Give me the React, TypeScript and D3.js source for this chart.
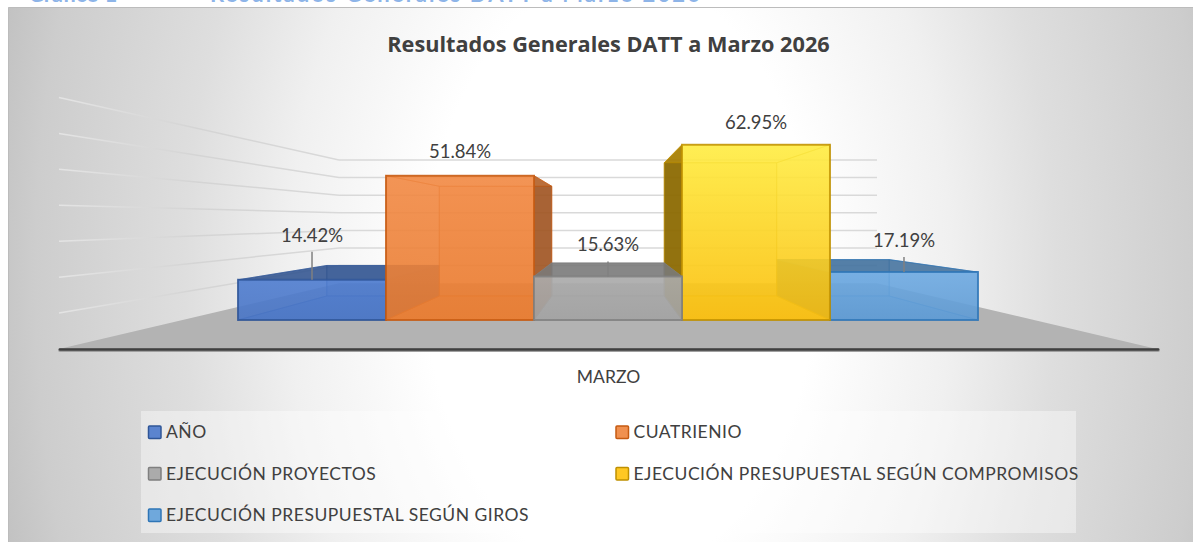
import React from 'react';
import { scaleBand, scaleLinear, line, color } from 'd3';

const categories = ['AÑO', 'CUATRIENIO', 'EJECUCIÓN PROYECTOS', 'EJECUCIÓN PRESUPUESTAL SEGÚN COMPROMISOS', 'EJECUCIÓN PRESUPUESTAL SEGÚN GIROS'];
const values = [14.42, 51.84, 15.63, 62.95, 17.19];
const valueTicks = [0, 10, 20, 30, 40, 50, 60, 70];
const axisCategory = 'MARZO';
const chartTitle = 'Resultados Generales DATT a Marzo 2026';

const colors = ['#4472C4', '#ED7D31', '#A5A5A5', '#FFC000', '#5B9BD5'];
const strokes = ['#2F5597', '#C55A11', '#7F7F7F', '#BF9000', '#2E75B6'];
const frontTop = ['#4f7dd0', '#f28a45', '#acacac', '#ffee45', '#6eaae2'];
const frontBottom = ['#4a76c6', '#e97c30', '#a3a3a3', '#fabf10', '#5f9bd4'];
const legendFill = ['#5b84cf', '#f0904f', '#ababab', '#ffc824', '#6fa8dc'];

const width = 1193;
const height = 542;
const font = 'Lato, Carlito, sans-serif';
const textColor = '#404040';

// simple perspective: everything is laid out on the front plane, then pulled to the vanishing point
const vanish = { x: 608, y: 220 };
const depth = { front: 1, barFront: 0.775, barBack: 0.589, wall: 0.49 };

const xFloor = scaleLinear().domain([0, 1]).range([59, 1157]);
const xBars = scaleBand().domain(categories).range([130.6, 1085.4]);
const yScale = scaleLinear().domain([0, 70]).range([349, 97.5]);

type P = [number, number];
const project = (x: number, v: number, k: number): P => [
  vanish.x + (x - vanish.x) * k,
  vanish.y + (yScale(v) - vanish.y) * k,
];
const path = line();
const poly = (pts: P[]) => path(pts) + 'Z';

// left bars first, so the taller front faces and the middle box sit on top
const paintOrder = [0, 4, 1, 3, 2];

const Box = ({ i }: { i: number }) => {
  const name = categories[i];
  const v = values[i];
  const x0 = xBars(name) as number;
  const x1 = x0 + xBars.bandwidth();
  const c = colors[i];
  const dark = (a: number) => color(c)!.darker(a).formatHex();
  const f = (x: number, val: number) => project(x, val, depth.barFront);
  const b = (x: number, val: number) => project(x, val, depth.barBack);
  const isLow = yScale(v) > vanish.y;
  const innerIsRight = i < 2;
  const isMiddle = i === 2;
  const edge = { stroke: strokes[i], strokeOpacity: 0.55, strokeWidth: 1 };
  const leftOp = !innerIsRight && !isMiddle ? 0.9 : 0.22;
  const rightOp = innerIsRight ? 0.85 : 0.22;
  return (
    <g>
      <path d={poly([b(x0, 0), b(x1, 0), b(x1, v), b(x0, v)])} fill={c} fillOpacity={0.4} {...edge} />
      <path d={poly([f(x0, 0), f(x1, 0), b(x1, 0), b(x0, 0)])} fill={c} fillOpacity={0.55} {...edge} />
      <path
        d={poly([f(x0, 0), b(x0, 0), b(x0, v), f(x0, v)])}
        fill={!innerIsRight && !isMiddle ? dark(1.8) : c}
        fillOpacity={leftOp}
        {...edge}
      />
      <path
        d={poly([f(x1, 0), b(x1, 0), b(x1, v), f(x1, v)])}
        fill={innerIsRight ? dark(1.2) : c}
        fillOpacity={rightOp}
        {...edge}
      />
      <path
        d={poly([f(x0, v), f(x1, v), b(x1, v), b(x0, v)])}
        fill={isLow ? dark(0.9) : c}
        fillOpacity={isLow ? 0.85 : 0.25}
        {...edge}
      />
      <path
        d={poly([f(x0, 0), f(x1, 0), f(x1, v), f(x0, v)])}
        fill={`url(#front${i})`}
        fillOpacity={0.88}
        stroke={strokes[i]}
        strokeOpacity={0.8}
        strokeWidth={2}
      />
    </g>
  );
};

// gap between bar top and label baseline, and the leader line for the low bars
const labelOffset = [38, 18, 25, 16, 25];
const leaderLength = [28, 0, 15, 0, 15];

const App = () => {
  const wallLeft = xFloor(0);
  const wallRight = xFloor(1);
  const wallTicks = valueTicks.slice(1);
  return (
    <svg
      width={width}
      height={height}
      style={{ position: 'absolute', left: 0, top: 0, background: '#fff' }}
      fontFamily={font}
    >
      <defs>
        <radialGradient
          id="bg"
          gradientUnits="userSpaceOnUse"
          cx={0}
          cy={0}
          r={1}
          gradientTransform="translate(620,275) scale(650,1000)"
        >
          <stop offset="0.3" stopColor="#ffffff" />
          <stop offset="0.51" stopColor="#f0f0f0" />
          <stop offset="0.67" stopColor="#dedede" />
          <stop offset="0.9" stopColor="#cdcdcd" />
          <stop offset="1" stopColor="#bfbfbf" />
        </radialGradient>
        <linearGradient id="fadeLeft" gradientUnits="userSpaceOnUse" x1={58} x2={338} y1={0} y2={0}>
          <stop offset="0" stopColor="#e4e4e4" />
          <stop offset="0.5" stopColor="#d4d4d4" />
          <stop offset="1" stopColor="#d9d9d9" />
        </linearGradient>
        {categories.map((d, i) => (
          <linearGradient key={d} id={`front${i}`} x1={0} x2={0} y1={0} y2={1}>
            <stop offset="0" stopColor={frontTop[i]} />
            <stop offset="1" stopColor={frontBottom[i]} />
          </linearGradient>
        ))}
      </defs>

      {/* heading of the page above the chart, cut off by the crop */}
      <text x={28} y={1.5} fontSize={22} fontWeight={700} fill="#8db4e8">Gráfico 1</text>
      <text x={210} y={1.5} fontSize={22} fontWeight={700} fill="#8db4e8" textLength={490}>{chartTitle}</text>

      <rect x={8} y={7.5} width={width - 8} height={height - 7.5} fill="url(#bg)" />
      <path d={`M8.5,${height}V7.5H${width}`} fill="none" stroke="#bcbcbc" strokeWidth={1} />

      <text
        x={608.5}
        y={52}
        textAnchor="middle"
        fontFamily="'Open Sans', sans-serif"
        fontSize={21.7}
        fontWeight={700}
        fill={textColor}
      >
        {chartTitle}
      </text>

      {wallTicks.map(t => {
        const a = project(wallLeft, t, depth.front);
        const m = project(wallLeft, t, depth.wall);
        const e = project(wallRight, t, depth.wall);
        return (
          <g key={t}>
            <path d={path([a, m])!} fill="none" stroke="url(#fadeLeft)" strokeWidth={1.5} />
            <path d={path([m, e])!} fill="none" stroke="#d9d9d9" strokeWidth={1.5} />
          </g>
        );
      })}

      <path
        d={poly([
          project(wallLeft, 0, depth.front),
          project(wallLeft, 0, depth.wall),
          project(wallRight, 0, depth.wall),
          project(wallRight, 0, depth.front),
        ])}
        fill="#b3b3b3"
      />

      {paintOrder.map(i => <Box key={categories[i]} i={i} />)}

      {categories.map((d, i) => {
        const x = (xBars(d) as number) + xBars.bandwidth() / 2;
        const top = project(x, values[i], depth.barFront);
        return (
          <g key={d}>
            {leaderLength[i] > 0 && (
              <line x1={top[0]} x2={top[0]} y1={top[1] - leaderLength[i]} y2={top[1]} stroke="#808080" strokeWidth={1.5} />
            )}
            <text x={top[0]} y={top[1] - labelOffset[i]} textAnchor="middle" fontSize={18.5} fill={textColor}>
              {values[i].toFixed(2)}%
            </text>
          </g>
        );
      })}

      <line x1={wallLeft + 1} x2={wallRight + 1} y1={350} y2={350} stroke="#a0a0a0" strokeWidth={4} strokeLinecap="round" />
      <line x1={wallLeft + 1} x2={wallRight + 1} y1={349.5} y2={349.5} stroke="#404040" strokeWidth={2.6} strokeLinecap="round" />

      <text x={608.5} y={383} textAnchor="middle" fontSize={17.5} fill={textColor}>{axisCategory}</text>

      <rect x={141} y={411} width={935} height={122} fill="#fff" fillOpacity={0.4} />
      {categories.map((d, i) => {
        const lx = i % 2 === 0 ? 148.5 : 616;
        const ly = 432 + Math.floor(i / 2) * 41.5;
        return (
          <g key={d}>
            <rect
              x={lx}
              y={ly - 6}
              width={12.5}
              height={12.5}
              fill={legendFill[i]}
              stroke={strokes[i]}
              strokeWidth={1.5}
              rx={1}
            />
            <text x={lx + 17.5} y={ly + 6} fontSize={17.5} fill={textColor} style={{ letterSpacing: 0.5 }}>
              {d}
            </text>
          </g>
        );
      })}
    </svg>
  );
};

export default App;
